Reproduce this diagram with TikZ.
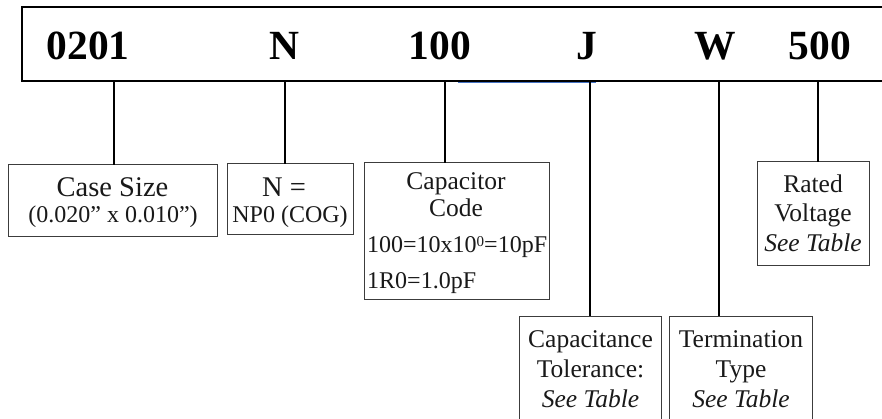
\documentclass[tikz,border=0pt]{standalone}
\usepackage{fontspec}
\setmainfont{Liberation Serif}
\definecolor{boxline}{RGB}{60,60,60}
\definecolor{txt}{RGB}{25,25,25}
\definecolor{blueline}{RGB}{68,114,196}
\tikzset{
  codelbl/.style={font=\fontsize{41.5}{48}\selectfont\bfseries, anchor=base, inner sep=0pt, text=black},
  bigtxt/.style={font=\fontsize{28.5}{34}\selectfont, anchor=base, inner sep=0pt, text=txt},
  midtxt/.style={font=\fontsize{25.5}{30}\selectfont, anchor=base, inner sep=0pt, text=txt},
  smalltxt/.style={font=\fontsize{24}{28}\selectfont, anchor=base, inner sep=0pt, text=txt},
  itxt/.style={midtxt, font=\fontsize{25.5}{30}\selectfont\itshape},
  infobox/.style={draw=boxline, line width=1pt, rectangle, inner sep=0pt, outer sep=0pt},
  barbox/.style={draw=black, line width=2.6pt, rectangle, inner sep=0pt, outer sep=0pt},
  conn/.style={draw=black, line width=2pt},
}
\begin{document}
\begin{tikzpicture}[x=1pt,y=-1pt]
\useasboundingbox (0,0) rectangle (882,419);
\clip (0,0) rectangle (882,419);
\fill[white] (0,0) rectangle (882,419);

% top bar
\node[barbox, minimum width=888pt, minimum height=74pt] (bar) at (466,44) {};
\draw[blueline, line width=1pt] (458,82.6) -- (596,82.6);

% code labels
\node[codelbl] (l0201) at (88,60) {0201};
\node[codelbl] (lN) at (284,60) {N};
\node[codelbl] (l100) at (440,60) {100};
\node[codelbl] (lJ) at (587,60) {J};
\node[codelbl] (lW) at (715,60) {W};
\node[codelbl] (l500) at (820,60) {500};

% boxes
\node[infobox, minimum width=209pt, minimum height=72pt] (case) at (112.5,201) {};
\node[infobox, minimum width=126pt, minimum height=71pt] (diel) at (290,199.5) {};
\node[infobox, minimum width=185pt, minimum height=136pt] (cap) at (456.5,231) {};
\node[infobox, minimum width=112pt, minimum height=104pt] (volt) at (813,214) {};
\node[infobox, minimum width=142pt, minimum height=124pt] (tol) at (590,378) {};
\node[infobox, minimum width=143pt, minimum height=124pt] (term) at (740.5,378) {};

% connectors
\coordinate (t1) at (114,81);
\coordinate (t2) at (285,81);
\coordinate (t3) at (445,81);
\coordinate (t4) at (590,81);
\coordinate (t5) at (719,81);
\coordinate (t6) at (818,81);
\draw[conn] (t1) -- (t1 |- case.north);
\draw[conn] (t2) -- (t2 |- diel.north);
\draw[conn] (t3) -- (t3 |- cap.north);
\draw[conn] (t4) -- (t4 |- tol.north);
\draw[conn] (t5) -- (t5 |- term.north);
\draw[conn] (t6) -- (t6 |- volt.north);

% box texts
\node[bigtxt] (case1) at (112.5,197) {Case Size};
\node[smalltxt] (case2) at (113,223) {(0.020” x 0.010”)};

\node[bigtxt] (diel1) at (284,197) {N =};
\node[smalltxt] (diel2) at (290,223) {NP0 (COG)};

\node[midtxt] (cap1) at (456,190) {Capacitor};
\node[midtxt] (cap2) at (456,217) {Code};
\node[smalltxt, anchor=base west] (cap3) at (367,253) {100=10x10\raisebox{6pt}{\fontsize{15}{15}\selectfont 0}=10pF};
\node[smalltxt, anchor=base west] (cap4) at (367,288) {1R0=1.0pF};

\node[midtxt] (volt1) at (813,193) {Rated};
\node[midtxt] (volt2) at (813,222) {Voltage};
\node[itxt] (volt3) at (813,252) {See Table};

\node[midtxt] (tol1) at (590.5,347) {Capacitance};
\node[midtxt] (tol2) at (590.5,377) {Tolerance:};
\node[itxt] (tol3) at (590.5,407) {See Table};

\node[midtxt] (term1) at (741,347) {Termination};
\node[midtxt] (term2) at (741,377) {Type};
\node[itxt] (term3) at (741,407) {See Table};
\end{tikzpicture}
\end{document}
